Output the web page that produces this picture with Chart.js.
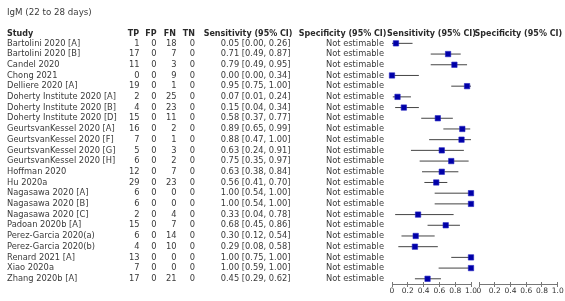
<!DOCTYPE html>
<html><head><meta charset="utf-8">
<script src="https://cdn.jsdelivr.net/npm/chart.js@4.4.0/dist/chart.umd.min.js"></script>
<style>
html,body{margin:0;padding:0;background:#fff;}
#wrap{position:relative;width:565px;height:301px;}
canvas{position:absolute;left:0;top:0;}
</style></head><body>
<div id="wrap"><canvas id="c1" width="565" height="301"></canvas><canvas id="c2" width="565" height="301"></canvas></div>
<script>
const title = "IgM (22 to 28 days)";
const studies = ["Bartolini 2020 [A]","Bartolini 2020 [B]","Candel 2020","Chong 2021","Delliere 2020 [A]",
  "Doherty Institute 2020 [A]","Doherty Institute 2020 [B]","Doherty Institute 2020 [D]",
  "GeurtsvanKessel 2020 [A]","GeurtsvanKessel 2020 [F]","GeurtsvanKessel 2020 [G]","GeurtsvanKessel 2020 [H]",
  "Hoffman 2020","Hu 2020a","Nagasawa 2020 [A]","Nagasawa 2020 [B]","Nagasawa 2020 [C]","Padoan 2020b [A]",
  "Perez-Garcia 2020(a)","Perez-Garcia 2020(b)","Renard 2021 [A]","Xiao 2020a","Zhang 2020b [A]"];
const tp = [1,17,11,0,19,2,4,15,16,7,5,6,12,29,6,6,2,15,6,4,13,7,17];
const fp = [0,0,0,0,0,0,0,0,0,0,0,0,0,0,0,0,0,0,0,0,0,0,0];
const fn = [18,7,3,9,1,25,23,11,2,1,3,2,7,23,0,0,4,7,14,10,0,0,21];
const tn = [0,0,0,0,0,0,0,0,0,0,0,0,0,0,0,0,0,0,0,0,0,0,0];
const sens   = [0.05,0.71,0.79,0.00,0.95,0.07,0.15,0.58,0.89,0.88,0.63,0.75,0.63,0.56,1.00,1.00,0.33,0.68,0.30,0.29,1.00,1.00,0.45];
const sensLo = [0.00,0.49,0.49,0.00,0.75,0.01,0.04,0.37,0.65,0.47,0.24,0.35,0.38,0.41,0.54,0.54,0.04,0.45,0.12,0.08,0.75,0.59,0.29];
const sensHi = [0.26,0.87,0.95,0.34,1.00,0.24,0.34,0.77,0.99,1.00,0.91,0.97,0.84,0.70,1.00,1.00,0.78,0.86,0.54,0.58,1.00,1.00,0.62];
const specText = "Not estimable";
const colHeaders = ["Study","TP","FP","FN","TN","Sensitivity (95% CI)","Specificity (95% CI)"];
const panelTitles = ["Sensitivity (95% CI)","Specificity (95% CI)"];

const FONT = '"DejaVu Sans", Verdana, sans-serif';
const TXT = '#3a3a3a';
const HDR = '#2a2a2a';
const AX = '#777';

function fmt(v){ return v.toFixed(2); }

const yScaleOpts = { type:'linear', display:false, reverse:true, min:-0.5, max:22.3 };
function xScaleOpts(){
  return {
    type:'linear', min:0, max:1,
    afterFit: s => { s.height = 19; },
    border:{ display:false },
    grid:{ drawOnChartArea:false, tickLength:5, color:AX, lineWidth:1 },
    ticks:{ stepSize:0.2, padding:0, autoSkip:false, maxRotation:0, color:'#333',
            font:{ family:FONT, size:7.5 } }
  };
}

const axisLinePlugin = {
  id:'axisLine',
  afterDraw(chart){
    const x = chart.scales.x, ctx = chart.ctx;
    ctx.save();
    ctx.strokeStyle = AX; ctx.lineWidth = 1;
    ctx.beginPath();
    const yy = Math.round(x.top + 1.5) + 0.5;
    ctx.moveTo(x.left, yy); ctx.lineTo(x.right, yy);
    ctx.stroke();
    ctx.restore();
  }
};

const tablePlugin = {
  id:'table',
  afterDraw(chart){
    const ctx = chart.ctx, y = chart.scales.y, x = chart.scales.x;
    ctx.save();
    ctx.textBaseline = 'middle';
    ctx.fillStyle = TXT;
    ctx.textAlign = 'left';
    ctx.font = '8.7px ' + FONT;
    ctx.fillText(title, 7, 13);
    ctx.fillStyle = HDR;
    const hy = 33.5;
    ctx.font = 'bold 8px ' + FONT;
    ctx.fillText(colHeaders[0], 7, hy);
    ctx.textAlign = 'right';
    ctx.fillText(colHeaders[1], 139, hy);
    ctx.fillText(colHeaders[2], 156.5, hy);
    ctx.fillText(colHeaders[3], 176, hy);
    ctx.fillText(colHeaders[4], 195, hy);
    ctx.fillText(colHeaders[5], 292.5, hy);
    ctx.fillText(colHeaders[6], 386.5, hy);
    ctx.textAlign = 'center';
    ctx.fillText(panelTitles[0], (x.left + x.right)/2, hy);

    ctx.font = '8.3px ' + FONT;
    ctx.fillStyle = TXT;
    studies.forEach((s,i) => {
      const py = y.getPixelForValue(i);
      ctx.textAlign = 'left';
      ctx.fillText(s, 7, py);
      ctx.textAlign = 'right';
      ctx.fillText(String(tp[i]), 139.5, py);
      ctx.fillText(String(fp[i]), 156.5, py);
      ctx.fillText(String(fn[i]), 176.5, py);
      ctx.fillText(String(tn[i]), 195, py);
      ctx.fillText(fmt(sens[i]) + ' [' + fmt(sensLo[i]) + ', ' + fmt(sensHi[i]) + ']', 290.5, py);
      ctx.fillText(specText, 384, py);
    });
    ctx.restore();
  }
};

const specHeaderPlugin = {
  id:'specHeader',
  afterDraw(chart){
    const ctx = chart.ctx, x = chart.scales.x;
    ctx.save();
    ctx.textBaseline = 'middle';
    ctx.textAlign = 'center';
    ctx.fillStyle = HDR;
    ctx.font = 'bold 8px ' + FONT;
    ctx.fillText(panelTitles[1], (x.left + x.right)/2, 33.5);
    ctx.restore();
  }
};

const ciDatasets = studies.map((s,i) => ({
  type:'scatter', showLine:true, order:2, clip:false,
  data:[{x:sensLo[i], y:i},{x:sensHi[i], y:i}],
  borderColor:'#444', borderWidth:1, pointRadius:0
}));
const markerDataset = {
  type:'scatter', order:1, clip:false,
  data: sens.map((v,i) => ({x:v, y:i})),
  pointStyle:'rect', pointRadius:3.8,
  backgroundColor:'#0000a8', borderColor:'#2222c0', borderWidth:0.6
};

const common = {
  responsive:false, animation:false, devicePixelRatio:1,
  plugins:{ legend:{display:false}, tooltip:{enabled:false} }
};

new Chart(document.getElementById('c1'), {
  type:'scatter',
  data:{ datasets:[markerDataset, ...ciDatasets] },
  options:Object.assign({}, common, {
    layout:{ padding:{ left:392, right:94, top:38, bottom:0 } },
    scales:{ x:xScaleOpts(), y:yScaleOpts }
  }),
  plugins:[axisLinePlugin, tablePlugin]
});

new Chart(document.getElementById('c2'), {
  type:'scatter',
  data:{ datasets:[{ data:[], pointRadius:0 }] },
  options:Object.assign({}, common, {
    layout:{ padding:{ left:479, right:7.3, top:38, bottom:0 } },
    scales:{ x:xScaleOpts(), y:Object.assign({}, yScaleOpts) }
  }),
  plugins:[axisLinePlugin, specHeaderPlugin]
});
</script>
</body></html>
